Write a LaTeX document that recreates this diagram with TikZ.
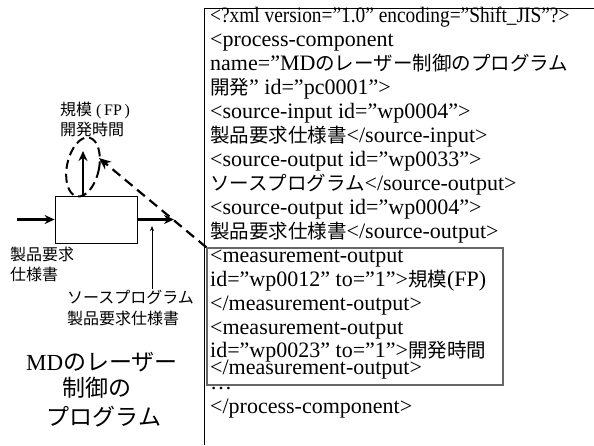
\documentclass[tikz,border=0pt]{standalone}
\usepackage{fontspec}
\setmainfont{Liberation Serif}
\newfontfamily\jp{Noto Sans CJK JP}
\usetikzlibrary{arrows.meta,shapes.geometric}
\newcommand\jx[1]{{\jp\fontsize{19.5}{24}\selectfont #1}}
\begin{document}
\begin{tikzpicture}[x=1pt,y=-1pt,
  xml/.style={anchor=base west,inner sep=0pt,font=\fontsize{22}{24}\selectfont},
  lbl/.style={anchor=base west,inner sep=0pt,font=\fontsize{16}{18}\selectfont\jp},
  big/.style={anchor=base,inner sep=0pt,font=\fontsize{23}{28}\selectfont},
  arr/.style={line width=2.2pt,-{Stealth[length=10pt,width=9pt]}},
  darr/.style={line width=2.2pt,dash pattern=on 10pt off 6pt,-{Stealth[length=12pt,width=10pt]}},
  tarr/.style={line width=0.6pt,-{Stealth[length=5pt,width=4pt]}}]
\useasboundingbox (0,0) rectangle (594,445);
% outer text box (only left and top edges visible)
\draw[line width=0.9pt] (204,445) -- (204,8) -- (594,8);
% inner measurement box
\node[draw=black!60,line width=1.4pt,minimum width=296pt,minimum height=137pt,inner sep=0pt] (meas) at (355,316.5) {};
% XML lines
\node[xml] (l1) at (210,22) {\scalebox{0.88}[1]{<?xml version=”1.0” encoding=”Shift\_JIS”?>}};
\node[xml] (l2) at (210,46) {<process-component};
\node[xml] (l3) at (210,70) {name=”MD\jx{のレーザー制御のプログラム}};
\node[xml] (l4) at (210,94) {\jx{開発}” id=”pc0001”>};
\node[xml] (l5) at (210,118) {<source-input id=”wp0004”>};
\node[xml] (l6) at (210,142) {\jx{製品要求仕様書}</source-input>};
\node[xml] (l7) at (210,166) {<source-output id=”wp0033”>};
\node[xml] (l8) at (210,190) {\jx{ソースプログラム}</source-output>};
\node[xml] (l9) at (210,214) {<source-output id=”wp0004”>};
\node[xml] (l10) at (210,238) {\jx{製品要求仕様書}</source-output>};
\node[xml] (l11) at (210,262) {<measurement-output};
\node[xml] (l12) at (210,286) {id=”wp0012” to=”1”>\jx{規模}(FP)};
\node[xml] (l13) at (210,310) {</measurement-output>};
\node[xml] (l14) at (210,334) {<measurement-output};
\node[xml] (l15) at (210,357) {id=”wp0023” to=”1”>\jx{開発時間}};
\node[xml] (l16) at (210,374) {</measurement-output>};
\node[xml] (l17) at (210,389) {…};
\node[xml] (l18) at (210,413) {</process-component>};
% process box and arrows
\node[draw,line width=0.8pt,minimum width=82pt,minimum height=47pt,inner sep=0pt] (proc) at (96,219.5) {};
\coordinate (inS) at (17,219.5);
\coordinate (outE) at (174,219.5);
\coordinate (upE) at (83,151);
\draw[arr] (inS) -- (proc.west);
\draw[arr] (proc.east) -- (outE);
\draw[arr] (upE |- proc.north) -- (upE);
\node[draw,ellipse,line width=2pt,dash pattern=on 9pt off 5pt,minimum width=32pt,minimum height=60pt,rotate=-12,inner sep=0pt] (ell) at (83,167) {};
\coordinate (dTip) at (99,158);
\draw[darr] (meas.north west) -- (dTip);
% labels
\node[lbl] (kibo) at (60,115) {規模{\rmfamily\ (\,FP\,)}};
\node[lbl] (kaihatsu) at (60,135) {開発時間};
\node[lbl] (in1) at (10,260) {製品要求};
\node[lbl] (in2) at (10,280) {仕様書};
\node[lbl] (out1) at (67,303) {ソースプログラム};
\node[lbl] (out2) at (67,324) {製品要求仕様書};
\coordinate (tTip) at (152,226);
\draw[tarr] (152,289) -- (tTip);
\node[big] (md1) at (102,370) {MD{\jp のレーザー}};
\node[big] (md2) at (97,396) {\jp 制御の};
\node[big] (md3) at (104,425) {\jp プログラム};
\end{tikzpicture}
\end{document}
